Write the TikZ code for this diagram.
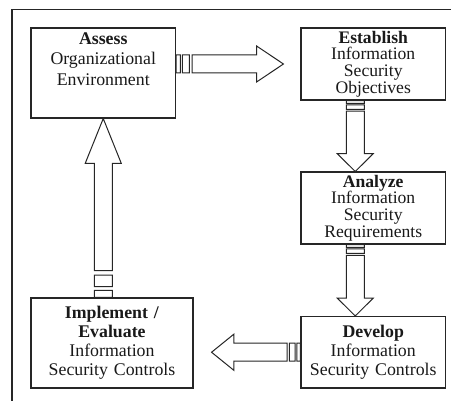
\documentclass[tikz,border=0pt]{standalone}
\usepackage{fontspec}
\setmainfont{Liberation Serif}
\usetikzlibrary{positioning,calc}

% striped block arrow from a tail coordinate to a tip coordinate
\newcommand{\stripedarrow}[2]{%
  \draw[blockarrow] let \p1=($(#2)-(#1)$), \n1={veclen(\x1,\y1)}, \n2={atan2(\y1,\x1)} in
    [shift={(#1)}, rotate=\n2]
    (0pt,-9pt) rectangle (0.04*\n1,9pt)
    (0.06*\n1,-9pt) rectangle (0.125*\n1,9pt)
    (0.15*\n1,-9pt) -- (0.75*\n1,-9pt) -- (0.75*\n1,-18pt) -- (\n1,0pt)
    -- (0.75*\n1,18pt) -- (0.75*\n1,9pt) -- (0.15*\n1,9pt) -- cycle;
}

\begin{document}
\begin{tikzpicture}[x=1pt, y=-1pt,
% Node styles
 box/.style={draw=black!85, line width=1.1pt, fill=white, inner sep=0pt,
 minimum width=144.5pt, text width=140pt, align=center, text=black!90,
 font=\fontsize{17.8}{19}\selectfont},
 tight/.style={font=\fontsize{17.6}{16.6}\selectfont},
 txt/.style={inner sep=0pt, align=center, text=black!90,
 font=\fontsize{17.8}{20.5}\selectfont},
% Edge styles
 blockarrow/.style={draw=black!85, line width=1pt, fill=white},
 frame/.style={draw=black!85, line width=1.3pt}
]
\useasboundingbox (0,0) rectangle (451,401);
\draw[frame] (12,420) -- (12,9.5) -- (470,9.5);

\node[box, minimum height=90pt] (assess) at (103.25,73) {};
\node[txt, below=5pt of assess.north] (assesstext) {\textbf{Assess}\\Organizational\\Environment};

\node[box, tight, minimum height=72pt] (establish) at (373.25,64)
 {\textbf{Establish}\\Information\\Security\\Objectives};
\node[box, tight, minimum height=72pt] (analyze) at (373.25,208)
 {\textbf{Analyze}\\Information\\Security\\Requirements};
\node[box, minimum height=71.5pt] (develop) at (373.25,352.25)
 {\textbf{Develop}\\Information\\Security Controls};
\node[box, minimum width=162pt, minimum height=90pt] (implement) at (112,343)
 {\textbf{Implement /}\\\textbf{Evaluate}\\Information\\Security Controls};

\coordinate (a1tail) at (assess.east |- establish.center);
\coordinate (a1tip) at ($(establish.west)+(-17,0)$);
\coordinate (a2tail) at ($(establish.south)+(-18,0)$);
\coordinate (a2tip) at ($(analyze.north)+(-18,0)$);
\coordinate (a3tail) at ($(analyze.south)+(-18,0)$);
\coordinate (a3tip) at ($(develop.north)+(-18,0)$);
\coordinate (a4tail) at (develop.west);
\coordinate (a4tip) at ($(develop.west -| implement.east)+(18,0)$);
\coordinate (a5tail) at (assess.south |- implement.north);
\coordinate (a5tip) at (assess.south);

\stripedarrow{a1tail}{a1tip}
\stripedarrow{a2tail}{a2tip}
\stripedarrow{a3tail}{a3tip}
\stripedarrow{a4tail}{a4tip}
\stripedarrow{a5tail}{a5tip}

\end{tikzpicture}
\end{document}
